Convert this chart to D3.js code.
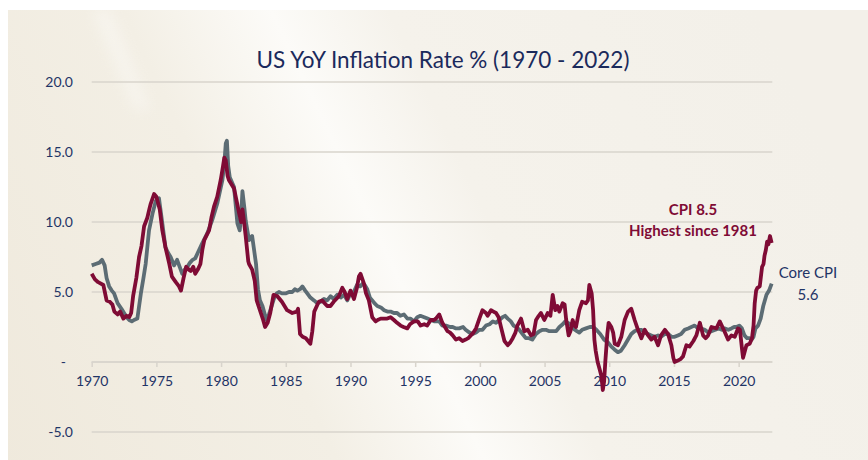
<!DOCTYPE html>
<html>
<head>
<meta charset="utf-8">
<script src="https://cdn.jsdelivr.net/npm/d3@7"></script>
<style>
  body { margin: 0; background: #ffffff; }
  svg { display: block; }
</style>
</head>
<body>
<div id="chart"></div>
<script>
  let width = 868
  let height = 460

  let chartTitle = "US YoY Inflation Rate % (1970 - 2022)"
  let yearTicks = [1970, 1975, 1980, 1985, 1990, 1995, 2000, 2005, 2010, 2015, 2020]
  let valueTicks = [-5, 0, 5, 10, 15, 20]

  // [year, yoy %]
  let cpi = [
    [1970.0, 6.3], [1970.25, 5.9], [1970.5, 5.7], [1970.9, 5.5], [1971.15, 4.4], [1971.4, 4.3],
    [1971.6, 4.1], [1971.75, 3.6], [1972.0, 3.4], [1972.2, 3.6], [1972.45, 3.1], [1972.7, 3.3],
    [1972.9, 3.2], [1973.05, 3.5], [1973.2, 4.7], [1973.45, 6.0], [1973.66, 7.5], [1973.85, 8.3],
    [1974.05, 9.7], [1974.3, 10.3], [1974.45, 10.9], [1974.56, 11.3], [1974.82, 12.0], [1975.0, 11.8],
    [1975.26, 10.9], [1975.46, 9.4], [1975.7, 8.2], [1976.0, 7.0], [1976.2, 6.1], [1976.5, 5.7],
    [1976.75, 5.4], [1976.9, 5.1], [1977.1, 6.0], [1977.3, 6.8], [1977.5, 6.6], [1977.65, 6.5],
    [1977.85, 6.8], [1978.0, 6.3], [1978.2, 6.6], [1978.4, 7.0], [1978.55, 8.0], [1978.7, 8.7],
    [1979.07, 9.4], [1979.25, 10.3], [1979.45, 11.1], [1979.7, 11.8], [1979.97, 13.0], [1980.15, 14.0],
    [1980.25, 14.6], [1980.36, 14.4], [1980.5, 13.3], [1980.6, 13.0], [1980.8, 12.7], [1981.0, 12.4],
    [1981.2, 11.5], [1981.4, 10.6], [1981.55, 10.0], [1981.65, 10.9], [1981.75, 10.2], [1981.9, 9.0],
    [1982.1, 7.2], [1982.16, 7.0], [1982.4, 6.6], [1982.6, 5.8], [1982.75, 4.4], [1983.0, 3.7],
    [1983.25, 3.0], [1983.4, 2.5], [1983.6, 2.8], [1983.8, 3.5], [1984.05, 4.8], [1984.35, 4.7],
    [1984.7, 4.3], [1985.1, 3.7], [1985.5, 3.5], [1985.85, 3.6], [1985.95, 3.8], [1986.1, 2.0],
    [1986.3, 1.8], [1986.55, 1.7], [1986.9, 1.3], [1987.05, 2.2], [1987.2, 3.6], [1987.55, 4.3],
    [1987.8, 4.4], [1988.2, 4.0], [1988.45, 4.0], [1988.7, 4.3], [1989.1, 4.7], [1989.37, 5.3],
    [1989.55, 5.0], [1989.75, 4.5], [1990.0, 5.1], [1990.27, 4.5], [1990.5, 5.3], [1990.65, 6.1],
    [1990.78, 6.3], [1991.04, 5.6], [1991.2, 4.9], [1991.42, 4.4], [1991.68, 3.2], [1991.94, 2.9],
    [1992.1, 3.0], [1992.33, 3.1], [1992.6, 3.1], [1992.84, 3.1], [1993.1, 3.2], [1993.36, 3.0],
    [1993.6, 2.8], [1993.87, 2.6], [1994.1, 2.5], [1994.39, 2.4], [1994.6, 2.7], [1994.9, 2.9],
    [1995.2, 2.9], [1995.42, 2.6], [1995.7, 2.7], [1995.93, 2.6], [1996.2, 3.0], [1996.45, 3.0],
    [1996.6, 3.1], [1996.86, 3.4], [1997.1, 2.8], [1997.3, 2.5], [1997.5, 2.2], [1997.7, 2.1],
    [1997.9, 1.9], [1998.15, 1.6], [1998.4, 1.7], [1998.66, 1.5], [1998.9, 1.6], [1999.1, 1.7],
    [1999.3, 1.9], [1999.5, 2.1], [1999.7, 2.4], [1999.96, 3.1], [2000.2, 3.7], [2000.47, 3.5],
    [2000.6, 3.3], [2000.86, 3.7], [2001.05, 3.6], [2001.25, 3.5], [2001.45, 3.2], [2001.63, 2.5],
    [2001.9, 1.5], [2002.15, 1.2], [2002.35, 1.4], [2002.54, 1.7], [2002.75, 2.1], [2002.9, 2.6],
    [2003.18, 3.1], [2003.44, 2.2], [2003.7, 2.3], [2003.95, 1.9], [2004.15, 2.0], [2004.34, 3.0],
    [2004.55, 3.3], [2004.72, 3.5], [2004.98, 3.0], [2005.24, 3.5], [2005.45, 3.3], [2005.63, 4.8],
    [2005.83, 3.7], [2006.0, 4.0], [2006.14, 3.6], [2006.4, 4.2], [2006.55, 4.1], [2006.66, 3.1],
    [2006.86, 1.9], [2007.0, 2.2], [2007.17, 3.0], [2007.3, 2.6], [2007.43, 2.5], [2007.68, 3.7],
    [2007.9, 4.3], [2008.2, 4.2], [2008.35, 4.4], [2008.46, 5.5], [2008.64, 4.9], [2008.75, 3.7],
    [2008.85, 1.6], [2008.95, 0.8], [2009.1, 0.0], [2009.25, -0.5], [2009.39, -1.0], [2009.5, -2.0],
    [2009.6, -1.4], [2009.7, 0.1], [2009.85, 2.0], [2009.95, 2.8], [2010.16, 2.5], [2010.3, 2.1],
    [2010.42, 1.3], [2010.67, 1.2], [2010.93, 1.8], [2011.19, 3.0], [2011.45, 3.6], [2011.7, 3.8],
    [2011.96, 3.0], [2012.22, 2.3], [2012.48, 1.7], [2012.74, 2.3], [2013.0, 1.9], [2013.25, 1.6],
    [2013.5, 1.8], [2013.77, 1.2], [2014.0, 1.9], [2014.3, 2.3], [2014.54, 2.0], [2014.8, 1.2],
    [2014.95, 0.3], [2015.05, 0.0], [2015.3, 0.1], [2015.5, 0.2], [2015.7, 0.4], [2015.96, 1.2],
    [2016.2, 1.1], [2016.5, 1.5], [2016.73, 1.9], [2017.0, 2.8], [2017.25, 1.9], [2017.45, 1.7],
    [2017.64, 1.9], [2017.9, 2.5], [2018.28, 2.4], [2018.54, 2.9], [2018.9, 2.2], [2019.18, 1.6],
    [2019.44, 1.9], [2019.7, 1.8], [2019.95, 2.4], [2020.1, 2.3], [2020.25, 1.0], [2020.34, 0.3],
    [2020.6, 1.2], [2020.85, 1.3], [2021.03, 1.7], [2021.15, 2.6], [2021.24, 4.2], [2021.35, 5.1],
    [2021.45, 5.3], [2021.63, 5.4], [2021.81, 6.8], [2021.92, 7.0], [2022.0, 7.6], [2022.1, 8.0],
    [2022.2, 8.6], [2022.3, 8.4], [2022.42, 9.0], [2022.55, 8.5]
  ]

  let coreCpi = [
    [1970.0, 6.9], [1970.3, 7.0], [1970.6, 7.1], [1970.8, 7.3], [1971.0, 6.9], [1971.15, 6.0],
    [1971.35, 5.4], [1971.55, 5.1], [1971.73, 4.9], [1972.0, 4.2], [1972.3, 3.8], [1972.5, 3.5],
    [1972.7, 3.2], [1972.9, 3.0], [1973.1, 2.9], [1973.27, 3.0], [1973.53, 3.1], [1973.8, 4.9],
    [1974.0, 6.0], [1974.17, 7.0], [1974.43, 9.4], [1974.7, 10.6], [1974.95, 11.5], [1975.2, 11.7],
    [1975.3, 11.0], [1975.46, 9.9], [1975.7, 8.2], [1975.9, 7.8], [1976.1, 7.5], [1976.37, 6.9],
    [1976.6, 7.3], [1976.8, 6.8], [1977.0, 6.3], [1977.2, 6.6], [1977.4, 6.8], [1977.6, 7.1],
    [1977.8, 7.3], [1978.0, 7.4], [1978.2, 7.8], [1978.55, 8.5], [1978.94, 9.2], [1979.3, 10.1],
    [1979.7, 11.3], [1980.1, 13.0], [1980.25, 14.2], [1980.36, 15.6], [1980.45, 15.8], [1980.55, 14.0],
    [1980.67, 13.2], [1981.0, 12.5], [1981.26, 9.9], [1981.44, 9.4], [1981.55, 10.5], [1981.65, 12.2],
    [1981.8, 11.0], [1981.9, 10.1], [1982.16, 8.7], [1982.4, 9.0], [1982.55, 8.0], [1982.7, 7.0],
    [1982.85, 5.2], [1983.0, 4.4], [1983.2, 4.0], [1983.5, 3.0], [1983.7, 3.4], [1984.08, 4.5],
    [1984.3, 4.9], [1984.47, 5.0], [1984.7, 4.9], [1984.98, 4.9], [1985.25, 5.0], [1985.5, 5.0],
    [1985.7, 5.2], [1985.9, 5.1], [1986.1, 5.2], [1986.28, 5.4], [1986.5, 5.1], [1986.66, 4.9],
    [1986.9, 4.6], [1987.18, 4.4], [1987.44, 4.2], [1987.7, 4.3], [1987.95, 4.5], [1988.2, 4.4],
    [1988.46, 4.7], [1988.7, 4.5], [1988.98, 4.8], [1989.25, 4.6], [1989.5, 4.8], [1989.75, 4.4],
    [1990.0, 4.9], [1990.25, 5.0], [1990.5, 5.5], [1990.75, 5.4], [1990.95, 5.6], [1991.1, 5.5],
    [1991.3, 5.2], [1991.5, 4.6], [1991.68, 4.4], [1991.85, 4.2], [1992.07, 4.0], [1992.35, 3.9],
    [1992.6, 3.7], [1992.85, 3.6], [1993.1, 3.6], [1993.35, 3.5], [1993.6, 3.5], [1993.85, 3.3],
    [1994.13, 3.4], [1994.4, 3.1], [1994.65, 3.1], [1994.9, 2.9], [1995.16, 3.2], [1995.4, 3.3],
    [1995.7, 3.2], [1995.95, 3.1], [1996.2, 3.0], [1996.5, 2.9], [1996.86, 2.9], [1997.1, 2.6],
    [1997.38, 2.6], [1997.7, 2.5], [1997.9, 2.5], [1998.15, 2.4], [1998.4, 2.4], [1998.7, 2.5],
    [1998.9, 2.3], [1999.2, 2.1], [1999.44, 2.0], [1999.7, 2.1], [1999.96, 2.3], [2000.2, 2.3],
    [2000.47, 2.6], [2000.75, 2.7], [2001.0, 2.9], [2001.25, 2.8], [2001.5, 3.0], [2001.75, 3.2],
    [2001.95, 3.3], [2002.15, 3.1], [2002.4, 2.9], [2002.6, 2.6], [2002.8, 2.5], [2003.05, 2.3],
    [2003.3, 2.0], [2003.55, 1.7], [2003.8, 1.7], [2004.05, 1.6], [2004.34, 2.0], [2004.6, 2.2],
    [2004.85, 2.3], [2005.1, 2.3], [2005.37, 2.2], [2005.6, 2.2], [2005.9, 2.2], [2006.15, 2.5],
    [2006.4, 2.7], [2006.6, 2.9], [2006.8, 2.8], [2007.0, 2.7], [2007.2, 2.4], [2007.5, 2.2],
    [2007.68, 2.1], [2007.9, 2.3], [2008.2, 2.4], [2008.5, 2.5], [2008.75, 2.5], [2009.0, 2.3],
    [2009.3, 2.0], [2009.6, 1.6], [2009.9, 1.4], [2010.16, 1.1], [2010.4, 0.9], [2010.67, 0.7],
    [2010.9, 0.8], [2011.19, 1.2], [2011.45, 1.6], [2011.7, 2.0], [2011.95, 2.2], [2012.22, 2.3],
    [2012.5, 2.3], [2012.74, 2.1], [2013.0, 2.0], [2013.25, 1.9], [2013.5, 1.8], [2013.77, 1.9],
    [2014.0, 1.8], [2014.3, 2.0], [2014.55, 2.0], [2014.8, 1.8], [2015.05, 1.8], [2015.3, 1.9],
    [2015.55, 2.0], [2015.83, 2.3], [2016.1, 2.4], [2016.34, 2.5], [2016.6, 2.6], [2016.86, 2.4],
    [2017.1, 2.4], [2017.38, 2.3], [2017.65, 2.1], [2017.9, 2.2], [2018.2, 2.3], [2018.45, 2.4],
    [2018.7, 2.3], [2018.9, 2.4], [2019.2, 2.3], [2019.44, 2.4], [2019.65, 2.5], [2019.82, 2.5],
    [2020.05, 2.6], [2020.25, 2.4], [2020.45, 1.9], [2020.65, 1.7], [2020.85, 1.7], [2021.0, 1.6],
    [2021.15, 1.8], [2021.3, 2.4], [2021.5, 2.6], [2021.7, 3.1], [2021.9, 4.0], [2022.15, 4.8],
    [2022.35, 5.1], [2022.55, 5.6]
  ]

  let cpiNote = ["CPI 8.5", "Highest since 1981"]
  let coreNote = ["Core CPI", "5.6"]

  let red = "#7f0b35"
  let grey = "#5c6c74"
  let navy = "#1f3466"

  let svg = d3.select("#chart").append("svg")
    .attr("width", width)
    .attr("height", height)

  let defs = svg.append("defs")
  let grad = defs.append("linearGradient")
    .attr("id", "bg")
    .attr("gradientUnits", "userSpaceOnUse")
    .attr("x1", -20).attr("y1", 430)
    .attr("x2", 780).attr("y2", 50)
  grad.append("stop").attr("offset", 0).attr("stop-color", "#efe9dc")
  grad.append("stop").attr("offset", 0.35).attr("stop-color", "#f3efe5")
  grad.append("stop").attr("offset", 0.5).attr("stop-color", "#fcfbf8")
  grad.append("stop").attr("offset", 0.62).attr("stop-color", "#f5f2eb")
  grad.append("stop").attr("offset", 1).attr("stop-color", "#f3f0e9")

  defs.append("filter").attr("id", "soft")
    .append("feGaussianBlur").attr("stdDeviation", 7)

  svg.append("rect")
    .attr("x", 8).attr("y", 10)
    .attr("width", width - 8).attr("height", height - 10)
    .attr("fill", "url(#bg)")

  // thin light streak near the top left
  svg.append("path")
    .attr("d", "M92,10 L110,10 L150,110 L135,110 Z")
    .attr("fill", "#ffffff")
    .attr("opacity", 0.35)
    .attr("filter", "url(#soft)")

  let x = d3.scaleLinear().domain([1970, 2022.6]).range([91.7, 772.3])
  let y = d3.scaleLinear().domain([-5, 20]).range([432, 82])

  // grid
  svg.append("g")
    .selectAll("line")
    .data(valueTicks)
    .enter().append("line")
    .attr("x1", x(1970)).attr("x2", x(2022.6))
    .attr("y1", function(d){ return y(d) })
    .attr("y2", function(d){ return y(d) })
    .attr("stroke", "#d8d4cc")
    .attr("stroke-width", 1.5)

  // y labels
  svg.append("g")
    .selectAll("text")
    .data(valueTicks)
    .enter().append("text")
    .attr("x", function(d){ return d == 0 ? 66 : 73 })
    .attr("y", function(d){ return y(d) })
    .attr("dy", "0.35em")
    .attr("text-anchor", "end")
    .style("font-family", "Lato")
    .style("font-size", "14px")
    .style("fill", navy)
    .text(function(d){ return d == 0 ? "-" : d.toFixed(1) })

  // x axis along zero
  let xAxis = d3.axisBottom(x)
    .tickValues(yearTicks)
    .tickSize(5)
    .tickPadding(9)
    .tickFormat(d3.format("d"))

  let xg = svg.append("g")
    .attr("transform", "translate(0," + y(0) + ")")
    .call(xAxis)
  xg.select(".domain").attr("stroke", "#d8d4cc").attr("stroke-width", 1.5)
    .attr("d", "M" + x(1970) + ",0H" + x(2022.6))
  xg.selectAll(".tick line").attr("stroke", "#d8d4cc").attr("stroke-width", 1.5)
  xg.selectAll(".tick text")
    .style("font-family", "Lato")
    .style("font-size", "14px")
    .style("fill", navy)

  let line = d3.line()
    .x(function(d){ return x(d[0]) })
    .y(function(d){ return y(d[1]) })

  svg.append("path")
    .datum(coreCpi)
    .attr("d", line)
    .attr("fill", "none")
    .attr("stroke", grey)
    .attr("stroke-width", 3.8)
    .attr("stroke-linejoin", "round")

  svg.append("path")
    .datum(cpi)
    .attr("d", line)
    .attr("fill", "none")
    .attr("stroke", red)
    .attr("stroke-width", 3.8)
    .attr("stroke-linejoin", "round")

  // title
  svg.append("text")
    .attr("x", 443)
    .attr("y", 68)
    .attr("text-anchor", "middle")
    .style("font-family", "Lato")
    .style("font-size", "22.5px")
    .style("fill", "#1b2a5c")
    .text(chartTitle)

  // notes
  svg.append("g")
    .selectAll("text")
    .data(cpiNote)
    .enter().append("text")
    .attr("x", 693)
    .attr("y", function(d, i){ return 215 + i * 21 })
    .attr("text-anchor", "middle")
    .style("font-family", "Lato")
    .style("font-weight", "bold")
    .style("font-size", "15px")
    .style("fill", red)
    .text(function(d){ return d })

  svg.append("g")
    .selectAll("text")
    .data(coreNote)
    .enter().append("text")
    .attr("x", 808)
    .attr("y", function(d, i){ return 278 + i * 22 })
    .attr("text-anchor", "middle")
    .style("font-family", "Lato")
    .style("font-size", "15px")
    .style("fill", navy)
    .text(function(d){ return d })
</script>
</body>
</html>
